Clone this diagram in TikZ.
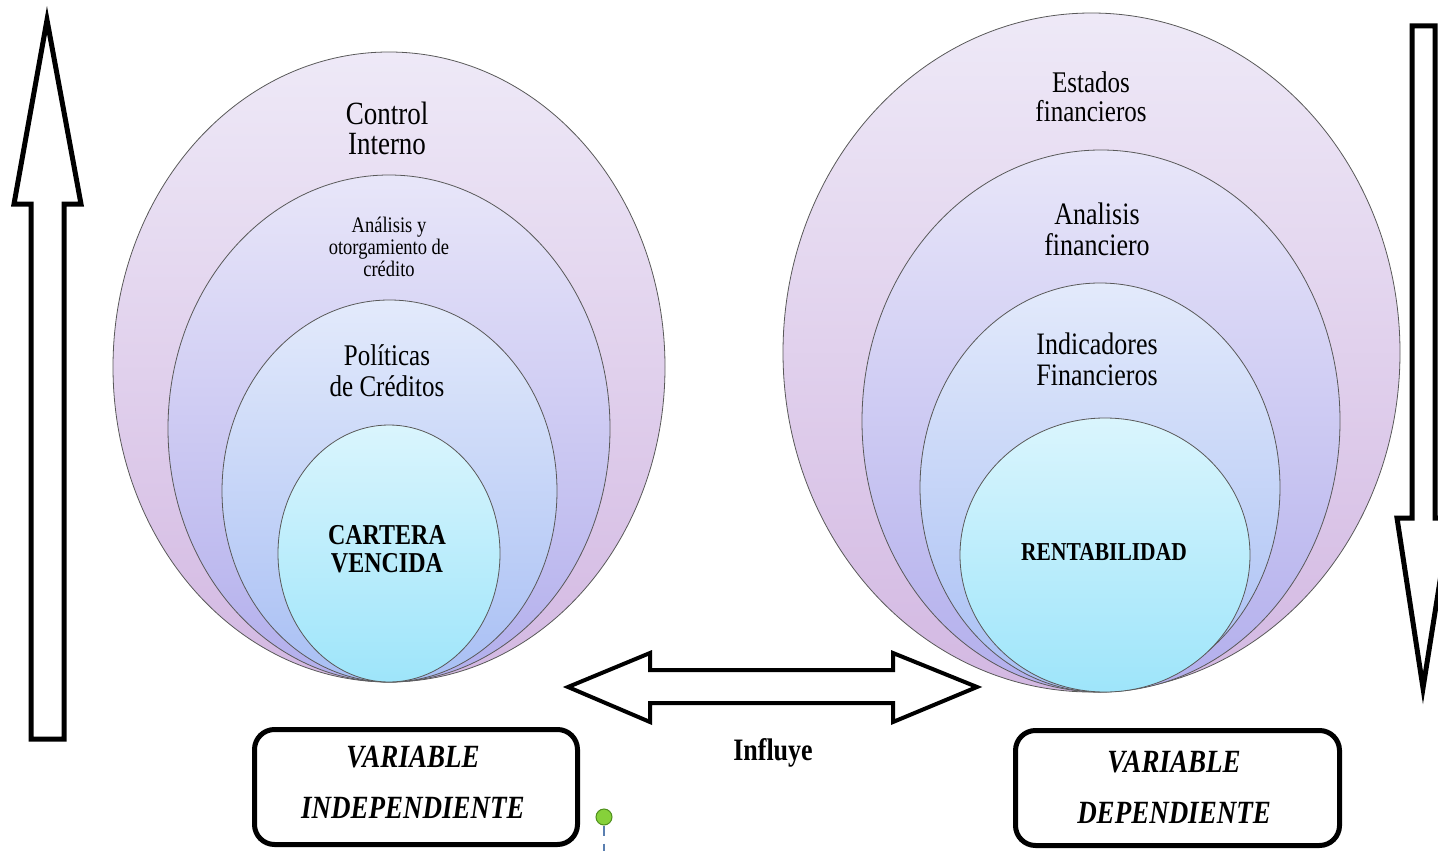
\documentclass[tikz,border=0pt]{standalone}
\usepackage{fontspec}
\usepackage{graphicx}
\setmainfont{Liberation Serif}
\usetikzlibrary{shapes.geometric}
\definecolor{aT}{HTML}{EEE9F7}\definecolor{aB}{HTML}{D3B8E2}
\definecolor{bT}{HTML}{E8E6F9}\definecolor{bB}{HTML}{B2AEEC}
\definecolor{cT}{HTML}{E3EAFB}\definecolor{cB}{HTML}{A8BFF4}
\definecolor{dT}{HTML}{DAF5FD}\definecolor{dB}{HTML}{9EE5FA}
\definecolor{pinfill}{HTML}{86D13A}\definecolor{pinline}{HTML}{4F8F1E}
\definecolor{pinstem}{HTML}{5A7FB0}
% vertically stretched centred text block (reference text is tall and narrow)
\newcommand{\tallblock}[1]{\scalebox{1}[1.2]{\begin{tabular}{@{}c@{}}#1\end{tabular}}}
\tikzset{
  ring/.style={ellipse, draw=black!65, line width=0.8pt, inner sep=0pt, outer sep=0pt},
  ringA/.style={ring, top color=aT, bottom color=aB},
  ringB/.style={ring, top color=bT, bottom color=bB},
  ringC/.style={ring, top color=cT, bottom color=cB},
  ringD/.style={ring, top color=dT, bottom color=dB},
  lbl/.style={align=center, inner sep=0pt, text=black},
  blockarrow/.style={draw=black, line width=5pt, fill=white, line join=miter},
  varbox/.style={draw=black, line width=5pt, rounded corners=20pt, fill=white,
     align=center, inner sep=0pt},
}
\begin{document}
\begin{tikzpicture}[x=1pt,y=-1pt]
\useasboundingbox (0,0) rectangle (1438,851);

% left nested ellipses
\node[ringA, minimum width=552, minimum height=630] (L1) at (389,367) {};
\node[ringB, minimum width=442, minimum height=507] (L2) at (389,428.5) {};
\node[ringC, minimum width=335, minimum height=382] (L3) at (389.5,491) {};
\node[ringD, minimum width=222, minimum height=257] (L4) at (389,553.5) {};

\node[lbl, font=\fontsize{27}{25}\selectfont] (tL1) at (387,133) {\tallblock{Control\\Interno}};
\node[lbl, font=\fontsize{18.5}{17.5}\selectfont] (tL2) at (389,250) {\tallblock{Análisis y\\otorgamiento de\\crédito}};
\node[lbl, font=\fontsize{25}{26}\selectfont] (tL3) at (387,375) {\tallblock{Políticas\\de Créditos}};
\node[lbl, font=\fontsize{24}{23.5}\selectfont\bfseries] (tL4) at (387,553) {\tallblock{CARTERA\\VENCIDA}};

% right nested ellipses
\node[ringA, minimum width=617, minimum height=679] (R1) at (1091.5,352.5) {};
\node[ringB, minimum width=478, minimum height=542] (R2) at (1101,421) {};
\node[ringC, minimum width=360, minimum height=409] (R3) at (1100,487.5) {};
\node[ringD, minimum width=290, minimum height=274] (R4) at (1105,555) {};

\node[lbl, font=\fontsize{25}{22.5}\selectfont] (tR1) at (1091,101) {\tallblock{Estados\\financieros}};
\node[lbl, font=\fontsize{26}{25}\selectfont] (tR2) at (1097,233.5) {\tallblock{Analisis\\financiero}};
\node[lbl, font=\fontsize{26}{26}\selectfont] (tR3) at (1097,364) {\tallblock{Indicadores\\Financieros}};
\node[lbl, font=\fontsize{21.5}{22}\selectfont\bfseries] (tR4) at (1104,555) {\tallblock{RENTABILIDAD}};

% up arrow (left)
\draw[blockarrow] (47,20) -- (81,204) -- (64,204) -- (64,739) -- (31,739) -- (31,204) -- (14,204) -- cycle;
% down arrow (right)
\draw[blockarrow] (1412,26) -- (1435,26) -- (1435,518) -- (1450,518) -- (1423,688) -- (1397,518) -- (1412,518) -- cycle;
% double arrow
\draw[blockarrow, line width=4pt] (568,687) -- (650,653) -- (650,670) -- (893,670) -- (893,653)
   -- (977,687) -- (893,722) -- (893,703) -- (650,703) -- (650,722) -- cycle;

\node[lbl, font=\fontsize{26}{26}\selectfont\bfseries] (inf) at (773,754) {\tallblock{Influye}};

% variable boxes
\node[varbox, minimum width=323, minimum height=115] (VI) at (416,787) {};
\node[lbl, font=\fontsize{27}{42.5}\selectfont\bfseries\itshape] (tVI) at (413,783) {\tallblock{VARIABLE\\INDEPENDIENTE}};
\node[varbox, minimum width=324, minimum height=115] (VD) at (1177.5,788) {};
\node[lbl, font=\fontsize{27}{42.5}\selectfont\bfseries\itshape] (tVD) at (1174,788) {\tallblock{VARIABLE\\DEPENDIENTE}};

% pin marker
\coordinate (pinbot) at (604,851);
\node[circle, fill=pinfill, draw=pinline, line width=1pt, minimum size=16, inner sep=0pt] (pin) at (604,817) {};
\draw[pinstem, line width=1.2pt, dash pattern=on 10pt off 8pt] (pin.south) -- (pinbot);
\end{tikzpicture}
\end{document}
